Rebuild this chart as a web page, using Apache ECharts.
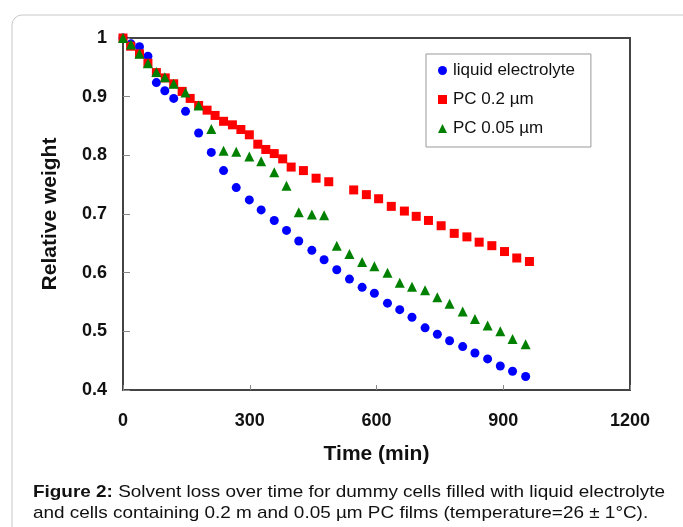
<!DOCTYPE html>
<html>
<head>
<meta charset="utf-8">
<script src="https://cdn.jsdelivr.net/npm/echarts@6/dist/echarts.min.js"></script>
<style>
  html, body { margin: 0; padding: 0; background: #fff; }
  #chart { width: 683px; height: 527px; }
</style>
</head>
<body>
<div id="chart"></div>
<script>
// time (min) for liquid electrolyte and PC 0.05 um
const timesA = [0, 19, 39, 59, 79, 99, 120, 148, 179, 209, 238, 268, 299, 327, 358, 387, 416, 447, 476, 506,
    536, 566, 595, 626, 655, 684, 715, 744, 773, 804, 833, 863, 893, 922, 953];
const liquid = [1.0, 0.990, 0.985, 0.969, 0.924, 0.910, 0.897, 0.875, 0.838, 0.805, 0.774, 0.745, 0.724, 0.707,
    0.689, 0.672, 0.654, 0.638, 0.622, 0.605, 0.589, 0.575, 0.565, 0.548, 0.537, 0.524, 0.506, 0.495, 0.484,
    0.474, 0.463, 0.453, 0.441, 0.432, 0.423];
const pc005 = [1.0, 0.989, 0.973, 0.957, 0.942, 0.933, 0.922, 0.907, 0.885, 0.845, 0.808, 0.806, 0.798, 0.790,
    0.771, 0.748, 0.703, 0.699, 0.698, 0.646, 0.632, 0.618, 0.611, 0.600, 0.583, 0.576, 0.570, 0.558, 0.547,
    0.534, 0.521, 0.510, 0.500, 0.487, 0.478];
// time (min) for PC 0.2 um
const timesB = [0, 18, 39, 59, 79, 100, 120, 140, 159, 179, 199, 218, 238, 259, 279, 299, 319, 338, 358, 378,
    398, 427, 457, 487, 546, 576, 605, 635, 666, 694, 723, 753, 784, 814, 843, 873, 903, 932, 962];
const pc02 = [1.0, 0.986, 0.973, 0.957, 0.941, 0.932, 0.922, 0.909, 0.897, 0.885, 0.877, 0.868, 0.858, 0.852,
    0.844, 0.835, 0.819, 0.810, 0.803, 0.794, 0.780, 0.774, 0.761, 0.755, 0.741, 0.733, 0.726, 0.713, 0.705,
    0.696, 0.689, 0.680, 0.667, 0.661, 0.652, 0.646, 0.636, 0.625, 0.619];

const names = ['liquid electrolyte', 'PC 0.2 \u00b5m', 'PC 0.05 \u00b5m'];
const pair = (xs, ys) => xs.map((x, i) => [x, ys[i]]);

const FONT = 'Liberation Sans, Arial, sans-serif';

const chart = echarts.init(document.getElementById('chart'), null, { renderer: 'canvas' });
chart.setOption({
    animation: false,
    backgroundColor: '#fff',
    grid: {
        left: 123,
        right: 53,
        top: 38,
        bottom: 137,
        show: true,
        borderColor: '#444',
        borderWidth: 2,
    },
    legend: {
        orient: 'vertical',
        left: 426,
        top: 54,
        padding: [8, 16, 10, 12],
        itemGap: 12,
        itemWidth: 9,
        itemHeight: 9,
        borderColor: '#999',
        borderWidth: 1,
        textStyle: { fontFamily: FONT, fontSize: 17, color: '#111', padding: [0, 0, 0, 1] },
        data: [
            { name: names[0], icon: 'circle' },
            { name: names[1], icon: 'rect' },
            { name: names[2], icon: 'triangle' },
        ],
    },
    xAxis: {
        type: 'value',
        min: 0,
        max: 1200,
        interval: 300,
        name: 'Time (min)',
        nameLocation: 'middle',
        nameGap: 54,
        nameTextStyle: { fontFamily: FONT, fontSize: 21, fontWeight: 'bold', color: '#111' },
        axisLine: { lineStyle: { color: '#444', width: 2 } },
        axisTick: { inside: true, length: 5, lineStyle: { color: '#888' } },
        axisLabel: {
            fontFamily: FONT, fontSize: 18, fontWeight: 'bold', color: '#111', margin: 22,
            formatter: v => String(v),
        },
        splitLine: { show: false },
    },
    yAxis: {
        type: 'value',
        min: 0.4,
        max: 1,
        interval: 0.1,
        name: 'Relative weight',
        nameLocation: 'middle',
        nameGap: 62,
        nameTextStyle: { fontFamily: FONT, fontSize: 21, fontWeight: 'bold', color: '#111' },
        axisLine: { lineStyle: { color: '#444', width: 2 } },
        axisTick: { inside: true, length: 7, lineStyle: { color: '#888' } },
        axisLabel: {
            fontFamily: FONT, fontSize: 18, fontWeight: 'bold', color: '#111', margin: 16,
            formatter: v => (v === 1 ? '1' : v.toFixed(1)),
        },
        splitLine: { show: false },
    },
    graphic: [
        {
            type: 'rect',
            shape: { x: 12, y: 15, width: 700, height: 540, r: 10 },
            style: { fill: 'none', stroke: '#c8c8c8', lineWidth: 1 },
            z: -1,
        },
        {
            type: 'text',
            x: 33,
            y: 482,
            scaleX: 1.113,
            style: {
                text: '{b|Figure 2:} Solvent loss over time for dummy cells filled with liquid electrolyte\nand cells containing 0.2 m and 0.05 \u00b5m PC films (temperature=26 \u00b1 1\u00b0C).',
                fontFamily: FONT,
                fontSize: 17,
                lineHeight: 21,
                fill: '#111',
                verticalAlign: 'top',
                rich: {
                    b: { fontFamily: FONT, fontSize: 17, lineHeight: 21, fontWeight: 'bold', fill: '#111' },
                },
            },
        },
    ],
    series: [
        {
            name: names[0], type: 'scatter', symbol: 'circle', symbolSize: 9,
            itemStyle: { color: '#0000ff', opacity: 1 }, data: pair(timesA, liquid), z: 2,
        },
        {
            name: names[1], type: 'scatter', symbol: 'rect', symbolSize: 9,
            itemStyle: { color: '#ff0000', opacity: 1 }, data: pair(timesB, pc02), z: 3,
        },
        {
            name: names[2], type: 'scatter', symbol: 'triangle', symbolSize: 10,
            itemStyle: { color: '#008000', opacity: 1 }, data: pair(timesA, pc005), z: 4,
        },
    ],
});
</script>
</body>
</html>
